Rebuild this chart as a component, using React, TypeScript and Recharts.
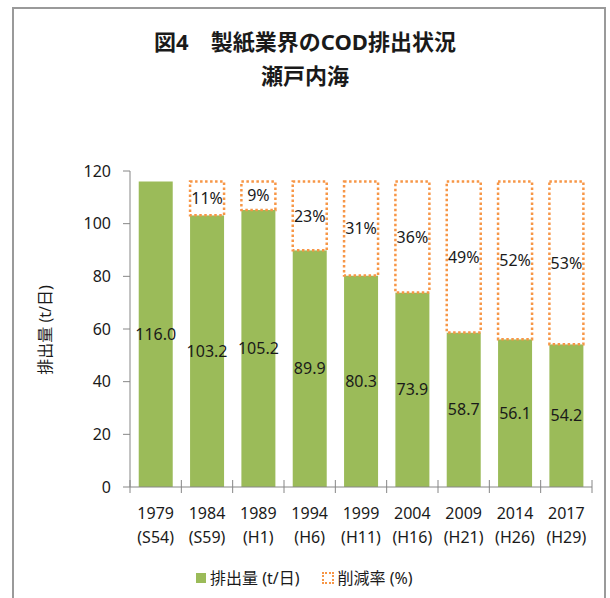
import React from 'react';
import { BarChart, Bar, XAxis, YAxis, LabelList } from 'recharts';

const years = ['1979', '1984', '1989', '1994', '1999', '2004', '2009', '2014', '2017'];
const eras = ['(S54)', '(S59)', '(H1)', '(H6)', '(H11)', '(H16)', '(H21)', '(H26)', '(H29)'];
const emissions = [116.0, 103.2, 105.2, 89.9, 80.3, 73.9, 58.7, 56.1, 54.2];
const reductionRates: (number | null)[] = [null, 11, 9, 23, 31, 36, 49, 52, 53];
const baselineEmission = 116.0;
const yTicks = [0, 20, 40, 60, 80, 100, 120];

const data = years.map((y, i) => ({
  year: y,
  era: eras[i],
  emission: emissions[i],
  reduction: reductionRates[i] == null ? null : baselineEmission - emissions[i],
  rateLabel: reductionRates[i] == null ? '' : `${reductionRates[i]}%`,
}));

const FONT = '"Noto Sans", "Noto Sans CJK JP", sans-serif';
const GREEN = '#9BBB59';
const ORANGE = '#F79646';
const AXIS = '#868686';
const TEXT = '#1a1a1a';

const W = 610;
const H = 598;
const X_AXIS_H = 30;
const M = { top: 171, right: 18, bottom: 111 - X_AXIS_H, left: 70 };
const Y_AXIS_W = 60;
const BAND = (W - M.right - (M.left + Y_AXIS_W)) / years.length;

const renderXTick = (props: any) => {
  const { x, y, payload } = props;
  const i = years.indexOf(String(payload.value));
  return (
    <g key={`xt-${i}`}>
      <line x1={x - BAND / 2} x2={x - BAND / 2} y1={y - 7} y2={y + 6} stroke={AXIS} strokeWidth={1} />
      {i === years.length - 1 && (
        <line x1={x + BAND / 2} x2={x + BAND / 2} y1={y - 7} y2={y + 6} stroke={AXIS} strokeWidth={1} />
      )}
      <text x={x} y={y + 32} textAnchor="middle" fontSize={16} fill={TEXT} fontFamily={FONT} style={{ fontFamily: FONT }}>
        {years[i]}
      </text>
      <text x={x} y={y + 56} textAnchor="middle" fontSize={16} fill={TEXT} fontFamily={FONT} style={{ fontFamily: FONT }}>
        {eras[i]}
      </text>
    </g>
  );
};

export default function App() {
  return (
    <div style={{ position: 'absolute', left: 0, top: 0, width: W, height: H, background: '#fff', fontFamily: FONT }}>
      <div
        style={{
          position: 'absolute',
          left: 12,
          top: 7,
          width: 594,
          height: 600,
          borderLeft: '2px solid #9a9a9a',
          borderTop: '2px solid #9a9a9a',
          borderRight: '2px solid #9a9a9a',
          boxSizing: 'border-box',
        }}
      />
      <div style={{ position: 'absolute', left: 0, width: W, top: 26, textAlign: 'center', fontSize: 22, fontWeight: 700, color: TEXT, lineHeight: '30px' }}>
        図4　製紙業界のCOD排出状況
      </div>
      <div style={{ position: 'absolute', left: 0, width: W, top: 60, textAlign: 'center', fontSize: 22, fontWeight: 700, color: TEXT, lineHeight: '30px' }}>
        瀬戸内海
      </div>
      <div
        style={{
          position: 'absolute',
          left: 45 - 70,
          top: 330 - 12,
          width: 140,
          height: 24,
          lineHeight: '24px',
          textAlign: 'center',
          fontSize: 16,
          color: TEXT,
          transform: 'rotate(-90deg)',
          whiteSpace: 'nowrap',
        }}
      >
        排出量 (t/日)
      </div>
      <div style={{ position: 'absolute', left: 0, top: 0 }}>
        <BarChart width={W} height={H} data={data} margin={M} barCategoryGap="17%">
          <XAxis
            dataKey="year"
            height={X_AXIS_H}
            axisLine={{ stroke: AXIS }}
            tickLine={false}
            tickSize={0}
            tickMargin={0}
            interval={0}
            tick={renderXTick}
          />
          <YAxis
            width={Y_AXIS_W}
            domain={[0, 120]}
            ticks={yTicks}
            interval={0}
            axisLine={{ stroke: AXIS }}
            tickLine={{ stroke: AXIS }}
            tickSize={7}
            tickMargin={12}
            tick={{ fontSize: 16, fill: TEXT, fontFamily: FONT }}
          />
          <Bar dataKey="emission" stackId="a" fill={GREEN} isAnimationActive={false}>
            <LabelList
              dataKey="emission"
              position="center"
              formatter={(v: any) => Number(v).toFixed(1)}
              style={{ fontSize: 16, fill: TEXT, fontFamily: FONT }}
            />
          </Bar>
          <Bar
            dataKey="reduction"
            stackId="a"
            fill="#ffffff"
            stroke={ORANGE}
            strokeWidth={2.5}
            strokeDasharray="2.5 2.5"
            isAnimationActive={false}
          >
            <LabelList dataKey="rateLabel" position="center" style={{ fontSize: 16, fill: TEXT, fontFamily: FONT }} />
          </Bar>
        </BarChart>
      </div>
      <div style={{ position: 'absolute', left: 196, top: 568, display: 'flex', alignItems: 'center', fontSize: 16, color: TEXT, lineHeight: '20px' }}>
        <span style={{ display: 'inline-block', width: 10, height: 10, background: GREEN, marginRight: 4 }} />
        <span>排出量 (t/日)</span>
        <span
          style={{
            display: 'inline-block',
            width: 8,
            height: 8,
            border: `2px dotted ${ORANGE}`,
            marginLeft: 22,
            marginRight: 4,
          }}
        />
        <span>削減率 (%)</span>
      </div>
    </div>
  );
}
